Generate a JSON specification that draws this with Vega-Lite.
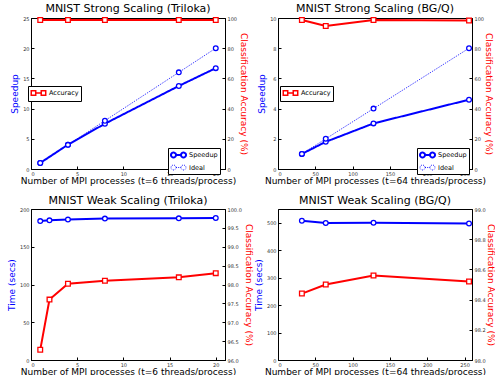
{
  "$schema": "https://vega.github.io/schema/vega-lite/v6.json",
  "padding": {"left": 6, "top": 2, "right": 0, "bottom": 0},
  "background": "white",
  "config": {
    "font": "DejaVu Sans",
    "view": {"stroke": "black", "strokeWidth": 1},
    "title": {"fontSize": 11, "fontWeight": "normal", "font": "DejaVu Sans", "offset": 1, "frame": "group", "color": "black"},
    "axis": {
      "grid": false, "domainColor": "black", "tickColor": "black", "tickSize": -3,
      "labelFontSize": 5, "labelColor": "#333", "labelPadding": 5, "labelFont": "DejaVu Sans",
      "titleFontSize": 9, "titleFontWeight": "normal", "titleFont": "DejaVu Sans", "titleColor": "black"
    },
    "legend": {
      "orient": "none", "strokeColor": "black", "fillColor": "white", "padding": 2, "cornerRadius": 0,
      "labelFontSize": 6.5, "labelFont": "DejaVu Sans", "labelColor": "black", "rowPadding": 1, "labelOffset": 9
    }
  },
  "datasets": {
    "s1": [
      {"x": 1, "y": 1.0, "series": "Speedup"}, {"x": 4, "y": 4.03, "series": "Speedup"}, {"x": 8, "y": 7.5, "series": "Speedup"}, {"x": 16, "y": 13.75, "series": "Speedup"}, {"x": 20, "y": 16.7, "series": "Speedup"},
      {"x": 1, "y": 1, "series": "Ideal"}, {"x": 4, "y": 4, "series": "Ideal"}, {"x": 8, "y": 8, "series": "Ideal"}, {"x": 16, "y": 16, "series": "Ideal"}, {"x": 20, "y": 20, "series": "Ideal"}
    ],
    "a1": [
      {"x": 1, "acc": 98.7, "series": "Accuracy"}, {"x": 4, "acc": 98.7, "series": "Accuracy"}, {"x": 8, "acc": 98.7, "series": "Accuracy"}, {"x": 16, "acc": 98.7, "series": "Accuracy"}, {"x": 20, "acc": 98.7, "series": "Accuracy"}
    ],
    "s2": [
      {"x": 32, "y": 1.0, "series": "Speedup"}, {"x": 64, "y": 1.8, "series": "Speedup"}, {"x": 128, "y": 3.02, "series": "Speedup"}, {"x": 256, "y": 4.59, "series": "Speedup"},
      {"x": 32, "y": 1, "series": "Ideal"}, {"x": 64, "y": 2, "series": "Ideal"}, {"x": 128, "y": 4, "series": "Ideal"}, {"x": 256, "y": 8, "series": "Ideal"}
    ],
    "a2": [
      {"x": 32, "acc": 98.7, "series": "Accuracy"}, {"x": 64, "acc": 94.7, "series": "Accuracy"}, {"x": 128, "acc": 98.7, "series": "Accuracy"}, {"x": 256, "acc": 98.3, "series": "Accuracy"}
    ],
    "t3": [
      {"x": 1, "time": 184.0}, {"x": 2, "time": 185.0}, {"x": 4, "time": 186.0}, {"x": 8, "time": 187.3}, {"x": 16, "time": 187.6}, {"x": 20, "time": 188.0}
    ],
    "a3": [
      {"x": 1, "acc": 96.27}, {"x": 2, "acc": 97.6}, {"x": 4, "acc": 98.02}, {"x": 8, "acc": 98.1}, {"x": 16, "acc": 98.19}, {"x": 20, "acc": 98.3}
    ],
    "t4": [
      {"x": 32, "time": 507}, {"x": 64, "time": 499}, {"x": 128, "time": 500}, {"x": 256, "time": 497}
    ],
    "a4": [
      {"x": 32, "acc": 98.44}, {"x": 64, "acc": 98.5}, {"x": 128, "acc": 98.56}, {"x": 256, "acc": 98.52}
    ]
  },
  "columns": 2,
  "spacing": {"row": 40, "column": 53},
  "bounds": "flush",
  "concat": [
    {
      "width": 194, "height": 151,
      "title": "MNIST Strong Scaling (Triloka)",
      "layer": [
        {
          "data": {"name": "s1"},
          "encoding": {
            "x": {"field": "x", "type": "quantitative", "scale": {"domain": [0, 21], "nice": false}, "axis": {"values": [0, 5, 10, 15, 20], "title": "Number of MPI processes (t=6 threads/process)", "titlePadding": 0}},
            "y": {"field": "y", "type": "quantitative", "scale": {"domain": [0, 25], "nice": false}, "axis": {"orient": "left", "values": [0, 5, 10, 15, 20, 25], "title": "Speedup", "titleColor": "#0000ff", "titlePadding": 3}}
          },
          "layer": [
            {
              "mark": {"type": "line"},
              "encoding": {
                "color": {"field": "series", "type": "nominal", "scale": {"domain": ["Speedup", "Ideal"], "range": ["#0000ff", "#0000ff"]},
                  "legend": {"title": null, "legendX": 137, "legendY": 130, "symbolType": "M-1,0A0.625,0.625 0 1,1 0.25,0A0.625,0.625 0 1,1 -1,0ZM1.5,0A0.625,0.625 0 1,1 2.75,0A0.625,0.625 0 1,1 1.5,0ZM0.25,0L1.5,0", "symbolSize": 64, "symbolStrokeWidth": 1.5, "symbolFillColor": "white"}},
                "strokeDash": {"field": "series", "type": "nominal", "scale": {"domain": ["Speedup", "Ideal"], "range": [[1, 0], [1, 1.2]]},
                  "legend": {"title": null, "legendX": 137, "legendY": 130, "symbolType": "M-1,0A0.625,0.625 0 1,1 0.25,0A0.625,0.625 0 1,1 -1,0ZM1.5,0A0.625,0.625 0 1,1 2.75,0A0.625,0.625 0 1,1 1.5,0ZM0.25,0L1.5,0", "symbolSize": 64, "symbolStrokeWidth": 1.5, "symbolFillColor": "white"}},
                "strokeWidth": {"field": "series", "type": "nominal", "scale": {"domain": ["Speedup", "Ideal"], "range": [2, 0.9]}, "legend": null}
              }
            },
            {
              "mark": {"type": "point", "shape": "circle", "filled": false, "fill": "white", "fillOpacity": 1, "stroke": "#0000ff", "strokeWidth": 1.3, "size": 22, "opacity": 1}
            }
          ]
        },
        {
          "data": {"name": "a1"},
          "encoding": {
            "x": {"field": "x", "type": "quantitative", "scale": {"domain": [0, 21], "nice": false}, "axis": {"values": [0, 5, 10, 15, 20], "title": "Number of MPI processes (t=6 threads/process)", "titlePadding": 0}},
            "y": {"field": "acc", "type": "quantitative", "scale": {"domain": [0, 100], "nice": false}, "axis": {"orient": "right", "values": [0, 20, 40, 60, 80, 100], "title": "Classification Accuracy (%)", "titleColor": "#ff0000", "titlePadding": 2}}
          },
          "layer": [
            {
              "mark": {"type": "line", "strokeWidth": 2},
              "encoding": {
                "color": {"field": "series", "type": "nominal", "scale": {"domain": ["Accuracy"], "range": ["#ff0000"]},
                  "legend": {"title": null, "legendX": -3, "legendY": 68, "symbolType": "M-0.94,-0.56h1.12v1.12h-1.12ZM1.56,-0.56h1.12v1.12h-1.12ZM0.18,0L1.56,0", "symbolSize": 64, "symbolStrokeWidth": 1.5, "symbolFillColor": "white"}}
              }
            },
            {
              "mark": {"type": "point", "shape": "square", "filled": false, "fill": "white", "fillOpacity": 1, "stroke": "#ff0000", "strokeWidth": 1.3, "size": 22, "opacity": 1}
            }
          ]
        }
      ],
      "resolve": {"scale": {"y": "independent", "color": "independent", "strokeDash": "independent", "strokeWidth": "independent"}}
    },
    {
      "width": 194, "height": 151,
      "title": "MNIST Strong Scaling (BG/Q)",
      "layer": [
        {
          "data": {"name": "s2"},
          "encoding": {
            "x": {"field": "x", "type": "quantitative", "scale": {"domain": [0, 260], "nice": false}, "axis": {"values": [0, 50, 100, 150, 200, 250], "title": "Number of MPI processes (t=64 threads/process)", "titlePadding": 0}},
            "y": {"field": "y", "type": "quantitative", "scale": {"domain": [0, 10], "nice": false}, "axis": {"orient": "left", "values": [0, 2, 4, 6, 8, 10], "title": "Speedup", "titleColor": "#0000ff", "titlePadding": 3}}
          },
          "layer": [
            {
              "mark": {"type": "line"},
              "encoding": {
                "color": {"field": "series", "type": "nominal", "scale": {"domain": ["Speedup", "Ideal"], "range": ["#0000ff", "#0000ff"]},
                  "legend": {"title": null, "legendX": 139, "legendY": 130, "symbolType": "M-1,0A0.625,0.625 0 1,1 0.25,0A0.625,0.625 0 1,1 -1,0ZM1.5,0A0.625,0.625 0 1,1 2.75,0A0.625,0.625 0 1,1 1.5,0ZM0.25,0L1.5,0", "symbolSize": 64, "symbolStrokeWidth": 1.5, "symbolFillColor": "white"}},
                "strokeDash": {"field": "series", "type": "nominal", "scale": {"domain": ["Speedup", "Ideal"], "range": [[1, 0], [1, 1.2]]},
                  "legend": {"title": null, "legendX": 139, "legendY": 130, "symbolType": "M-1,0A0.625,0.625 0 1,1 0.25,0A0.625,0.625 0 1,1 -1,0ZM1.5,0A0.625,0.625 0 1,1 2.75,0A0.625,0.625 0 1,1 1.5,0ZM0.25,0L1.5,0", "symbolSize": 64, "symbolStrokeWidth": 1.5, "symbolFillColor": "white"}},
                "strokeWidth": {"field": "series", "type": "nominal", "scale": {"domain": ["Speedup", "Ideal"], "range": [2, 0.9]}, "legend": null}
              }
            },
            {
              "mark": {"type": "point", "shape": "circle", "filled": false, "fill": "white", "fillOpacity": 1, "stroke": "#0000ff", "strokeWidth": 1.3, "size": 22, "opacity": 1}
            }
          ]
        },
        {
          "data": {"name": "a2"},
          "encoding": {
            "x": {"field": "x", "type": "quantitative", "scale": {"domain": [0, 260], "nice": false}, "axis": {"values": [0, 50, 100, 150, 200, 250], "title": "Number of MPI processes (t=64 threads/process)", "titlePadding": 0}},
            "y": {"field": "acc", "type": "quantitative", "scale": {"domain": [0, 100], "nice": false}, "axis": {"orient": "right", "values": [0, 20, 40, 60, 80, 100], "title": "Classification Accuracy (%)", "titleColor": "#ff0000", "titlePadding": 0}}
          },
          "layer": [
            {
              "mark": {"type": "line", "strokeWidth": 2},
              "encoding": {
                "color": {"field": "series", "type": "nominal", "scale": {"domain": ["Accuracy"], "range": ["#ff0000"]},
                  "legend": {"title": null, "legendX": 2, "legendY": 68, "symbolType": "M-0.94,-0.56h1.12v1.12h-1.12ZM1.56,-0.56h1.12v1.12h-1.12ZM0.18,0L1.56,0", "symbolSize": 64, "symbolStrokeWidth": 1.5, "symbolFillColor": "white"}}
              }
            },
            {
              "mark": {"type": "point", "shape": "square", "filled": false, "fill": "white", "fillOpacity": 1, "stroke": "#ff0000", "strokeWidth": 1.3, "size": 22, "opacity": 1}
            }
          ]
        }
      ],
      "resolve": {"scale": {"y": "independent", "color": "independent", "strokeDash": "independent", "strokeWidth": "independent"}}
    },
    {
      "width": 194, "height": 151,
      "title": "MNIST Weak Scaling (Triloka)",
      "layer": [
        {
          "data": {"name": "t3"},
          "encoding": {
            "x": {"field": "x", "type": "quantitative", "scale": {"domain": [0, 21], "nice": false}, "axis": {"values": [0, 5, 10, 15, 20], "title": "Number of MPI processes (t=6 threads/process)", "titlePadding": 0}},
            "y": {"field": "time", "type": "quantitative", "scale": {"domain": [0, 200], "nice": false}, "axis": {"orient": "left", "values": [0, 50, 100, 150, 200], "title": "Time (secs)", "titleColor": "#0000ff", "titlePadding": 3}}
          },
          "layer": [
            {"mark": {"type": "line", "stroke": "#0000ff", "strokeWidth": 2}},
            {"mark": {"type": "point", "shape": "circle", "filled": false, "fill": "white", "fillOpacity": 1, "stroke": "#0000ff", "strokeWidth": 1.3, "size": 22, "opacity": 1}}
          ]
        },
        {
          "data": {"name": "a3"},
          "encoding": {
            "x": {"field": "x", "type": "quantitative", "scale": {"domain": [0, 21], "nice": false}, "axis": {"values": [0, 5, 10, 15, 20], "title": "Number of MPI processes (t=6 threads/process)", "titlePadding": 0}},
            "y": {"field": "acc", "type": "quantitative", "scale": {"domain": [96, 100], "nice": false, "zero": false}, "axis": {"orient": "right", "values": [96, 96.5, 97, 97.5, 98, 98.5, 99, 99.5, 100], "format": ".1f", "title": "Classification Accuracy (%)", "titleColor": "#ff0000", "titlePadding": 2}}
          },
          "layer": [
            {"mark": {"type": "line", "stroke": "#ff0000", "strokeWidth": 2}},
            {"mark": {"type": "point", "shape": "square", "filled": false, "fill": "white", "fillOpacity": 1, "stroke": "#ff0000", "strokeWidth": 1.3, "size": 22, "opacity": 1}}
          ]
        }
      ],
      "resolve": {"scale": {"y": "independent"}}
    },
    {
      "width": 194, "height": 151,
      "title": "MNIST Weak Scaling (BG/Q)",
      "layer": [
        {
          "data": {"name": "t4"},
          "encoding": {
            "x": {"field": "x", "type": "quantitative", "scale": {"domain": [0, 260], "nice": false}, "axis": {"values": [0, 50, 100, 150, 200, 250], "title": "Number of MPI processes (t=64 threads/process)", "titlePadding": 0}},
            "y": {"field": "time", "type": "quantitative", "scale": {"domain": [0, 550], "nice": false}, "axis": {"orient": "left", "values": [0, 100, 200, 300, 400, 500], "title": "Time (secs)", "titleColor": "#0000ff", "titlePadding": 3}}
          },
          "layer": [
            {"mark": {"type": "line", "stroke": "#0000ff", "strokeWidth": 2}},
            {"mark": {"type": "point", "shape": "circle", "filled": false, "fill": "white", "fillOpacity": 1, "stroke": "#0000ff", "strokeWidth": 1.3, "size": 22, "opacity": 1}}
          ]
        },
        {
          "data": {"name": "a4"},
          "encoding": {
            "x": {"field": "x", "type": "quantitative", "scale": {"domain": [0, 260], "nice": false}, "axis": {"values": [0, 50, 100, 150, 200, 250], "title": "Number of MPI processes (t=64 threads/process)", "titlePadding": 0}},
            "y": {"field": "acc", "type": "quantitative", "scale": {"domain": [98, 99], "nice": false, "zero": false}, "axis": {"orient": "right", "values": [98, 98.2, 98.4, 98.6, 98.8, 99], "format": ".1f", "title": "Classification Accuracy (%)", "titleColor": "#ff0000", "titlePadding": 0}}
          },
          "layer": [
            {"mark": {"type": "line", "stroke": "#ff0000", "strokeWidth": 2}},
            {"mark": {"type": "point", "shape": "square", "filled": false, "fill": "white", "fillOpacity": 1, "stroke": "#ff0000", "strokeWidth": 1.3, "size": 22, "opacity": 1}}
          ]
        }
      ],
      "resolve": {"scale": {"y": "independent"}}
    }
  ]
}
